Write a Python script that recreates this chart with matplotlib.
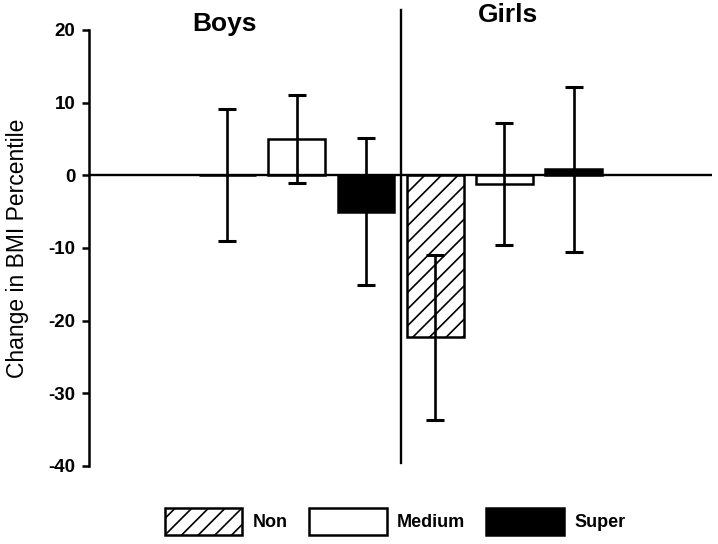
import matplotlib.pyplot as plt
import numpy as np
from matplotlib.patches import Patch

plt.rcParams['font.family'] = ['Liberation Sans', 'DejaVu Sans']
plt.rcParams['hatch.linewidth'] = 1.2
plt.rcParams['axes.unicode_minus'] = False

groups = ['Boys', 'Girls']
levels = ['Non', 'Medium', 'Super']
# mean change and error, one list per level: [boys, girls]
non_vals = [0.0, -22.3]
non_err = [9.1, 11.4]
medium_vals = [5.0, -1.2]
medium_err = [6.1, 8.4]
super_vals = [-5.0, 0.8]
super_err = [10.1, 11.4]

vals = [non_vals, medium_vals, super_vals]
errs = [non_err, medium_err, super_err]
faces = ['white', 'white', 'black']
hatches = ['//', '', '']

fig = plt.figure(figsize=(7.18, 5.44), dpi=100)
ax = fig.add_axes([0.124, 0.1434, 0.8677, 0.8015])

group_start = np.array([2, 5])
width = 0.82
for i in range(3):
    x = group_start + i
    ax.bar(x, vals[i], width, color=faces[i], edgecolor='black',
           linewidth=1.8, hatch=hatches[i], zorder=2)
    ax.errorbar(x, vals[i], yerr=errs[i], fmt='none', ecolor='black',
                elinewidth=1.9, capsize=6.5, capthick=2.2, zorder=3)

ax.axhline(0, color='black', lw=1.7, zorder=4)
ax.plot([4.5, 4.5], [22.7, -39.6], color='black', lw=1.7, clip_on=False, zorder=4)

ax.text(1.95, 20.8, groups[0], ha='center', va='center', fontsize=19,
        fontweight='bold', clip_on=False)
ax.text(6.05, 22.0, groups[1], ha='center', va='center', fontsize=19,
        fontweight='bold', clip_on=False)

ax.set_xlim(0, 9)
ax.set_ylim(-40, 20)
ax.set_yticks(np.arange(-40, 21, 10))
ax.set_xticks([])
for s in ['top', 'right', 'bottom']:
    ax.spines[s].set_visible(False)
ax.spines['left'].set_linewidth(1.8)
ax.tick_params(axis='y', length=5, width=1.8, labelsize=13.5, pad=5)
for lab in ax.get_yticklabels():
    lab.set_fontweight('bold')
ax.set_ylabel('Change in BMI Percentile', fontsize=16.5, labelpad=14)

handles = [Patch(facecolor=faces[i], edgecolor='black', linewidth=1.8,
                 hatch=hatches[i]) for i in range(3)]
fig.legend(handles, levels, loc='center', bbox_to_anchor=(0.55, 0.042),
           ncol=3, frameon=False, handlelength=4.3, handleheight=1.9,
           handletextpad=0.55, columnspacing=1.2,
           prop={'size': 13, 'weight': 'bold'})

fig.savefig('out.png', dpi=100)
